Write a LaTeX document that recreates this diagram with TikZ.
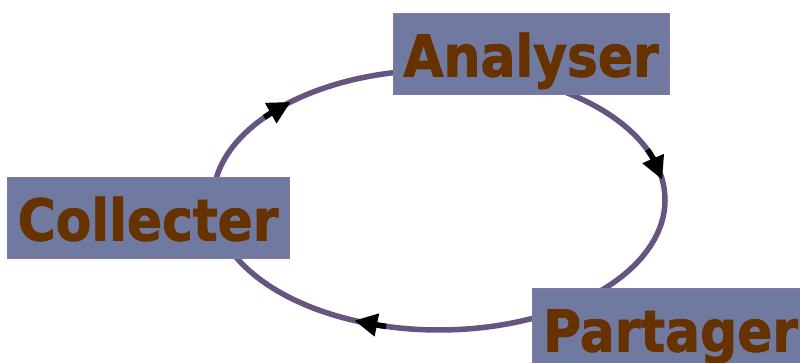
\documentclass[tikz,border=0pt]{standalone}
\usepackage{fontspec}
\newfontfamily\boxfont[FakeStretch=0.9,FakeBold=1.5]{DejaVu Sans}
\usetikzlibrary{arrows.meta,bending,backgrounds}
\definecolor{ringcol}{HTML}{665580}
\definecolor{boxfill}{HTML}{707AA0}
\definecolor{boxline}{HTML}{8577A6}
\definecolor{textcol}{HTML}{663300}
\begin{document}
\begin{tikzpicture}[x=1pt,y=1pt,
  stagebox/.style={draw=boxline, line width=0.8pt, fill=boxfill, text=textcol,
    inner sep=0pt, minimum height=81pt, text height=46pt, text depth=0pt,
    font=\boxfont\bfseries\fontsize{57.6}{60}\selectfont},
  ring/.style={draw=ringcol, line width=5.5pt},
  tipmark/.style={draw=black, line width=5.5pt, -{Triangle[length=23pt,width=22pt,flex]}}]
\useasboundingbox (0,0) rectangle (800,363);
\clip (0,0) rectangle (800,363);
\coordinate (c) at (439,163);
% stages
\node[stagebox, minimum width=276pt] (A) at (531,309.5) {Analyser};
\node[stagebox, minimum width=282pt] (C) at (148,145.5) {Collecter};
\node[stagebox, minimum width=277pt] (P) at (670.5,34.5) {Partager};
% connector end points on the ring (inside the boxes)
\path (c) ++(58:226pt and 130pt) coordinate (A-out);
\path (c) ++(-62.5:226pt and 130pt) coordinate (P-out);
\path (c) ++(173:226pt and 130pt) coordinate (C-out);
\begin{scope}[on background layer]
\draw[ring] (A-out) arc[start angle=58, end angle=-46, x radius=226pt, y radius=130pt];
\draw[ring] (P-out) arc[start angle=-62.5, end angle=-157, x radius=226pt, y radius=130pt];
\draw[ring] (C-out) arc[start angle=173, end angle=98, x radius=226pt, y radius=130pt];
\end{scope}
% arrow heads
\draw[tipmark] (c) ++(22.8:226pt and 130pt) arc[start angle=22.8, end angle=9, x radius=226pt, y radius=130pt];
\draw[tipmark] (c) ++(-103.5:226pt and 130pt) arc[start angle=-103.5, end angle=-112, x radius=226pt, y radius=130pt];
\draw[tipmark] (c) ++(140.6:226pt and 130pt) arc[start angle=140.6, end angle=131, x radius=226pt, y radius=130pt];
\end{tikzpicture}
\end{document}
